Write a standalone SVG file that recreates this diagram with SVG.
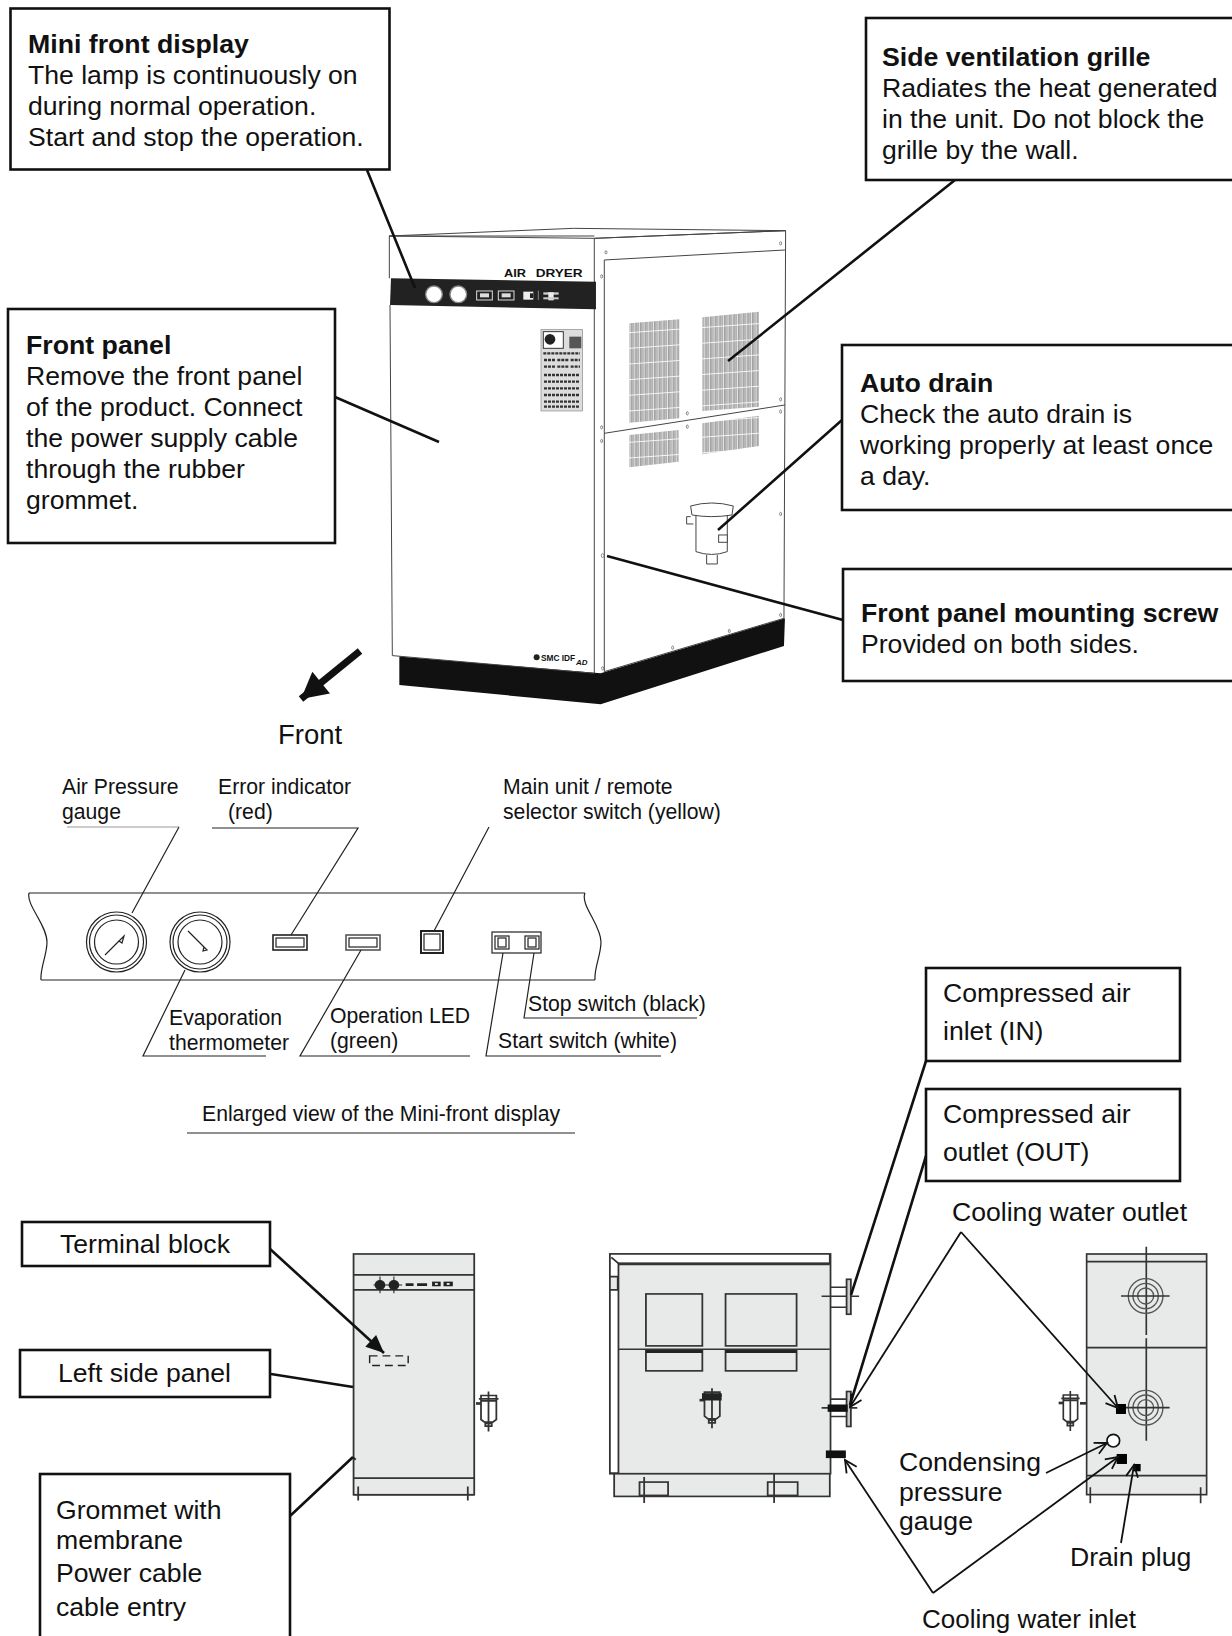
<svg xmlns="http://www.w3.org/2000/svg" xmlns:xlink="http://www.w3.org/1999/xlink" width="1232" height="1636" viewBox="0 0 1232 1636">
<style>
text{font-family:"Liberation Sans",Arial,sans-serif;fill:#111}
.b{font-size:26.6px}.bh{font-size:26.7px;font-weight:bold}
.s{font-size:21.2px}.m{font-size:26.6px}
.box{fill:#fff;stroke:#111;stroke-width:2.6}
.ln{fill:none;stroke:#111;stroke-width:2.6}
.t{fill:none;stroke:#222;stroke-width:1.2}
.g{fill:none;stroke:#999;stroke-width:1.2}
.a{fill:none;stroke:#111;stroke-width:1.8}
.u{fill:#e8eaea;stroke:#333;stroke-width:5}
.d{fill:none;stroke:#333;stroke-width:5}
.m1{fill:none;stroke:#444;stroke-width:3}
</style>
<defs>
<marker id="open" markerUnits="userSpaceOnUse" markerWidth="20" markerHeight="20" refX="15" refY="10" orient="auto"><path d="M3 4L15 10L3 16" fill="none" stroke="#111" stroke-width="1.8"/></marker>
<marker id="solid" markerUnits="userSpaceOnUse" markerWidth="24" markerHeight="24" refX="20" refY="12" orient="auto"><path d="M2 4L20 12L2 20Z" fill="#111"/></marker>
<marker id="big" markerUnits="userSpaceOnUse" markerWidth="40" markerHeight="40" refX="34" refY="20" orient="auto"><path d="M8 6L34 20L8 34Z" fill="#111"/></marker>
<pattern id="gr" patternUnits="userSpaceOnUse" width="14" height="47" patternTransform="skewY(-4)"><rect width="14" height="47" fill="#e2e2e2"/><path d="M1.500 0V47M5 0V47M9 0V47" stroke="#666" stroke-width="1.600"/><path d="M0 1H14" stroke="#fff" stroke-width="3"/></pattern>
<g id="drn"><path d="M0 10H55M6 0H49V16H6ZM6 16V72L16 80H39L49 72V16M27 -12V108M18 84H36V92H18Z" fill="none" stroke="#333" stroke-width="5"/><path d="M-8 24H6" stroke="#333" stroke-width="8"/></g>
<g id="port"><circle r="52" fill="none" stroke="#555" stroke-width="4"/><circle r="38" fill="none" stroke="#555" stroke-width="4"/><circle r="24" fill="none" stroke="#555" stroke-width="4"/><path d="M-74 0H72" stroke="#333" stroke-width="5"/></g>
</defs>

<g id="dryer" transform="translate(360 210) scale(.3333)">
<path d="M118 1340L722 1390L1275 1225L1272 1308L722 1483L118 1425Z" fill="#111"/>
<path d="M88 78L640 55L1277 62L703 85ZM88 78H703M88 78V205M90 285L97 1337L703 1390V85M733 150V1385M703 85L1277 62L1272 1225L733 1385M733 150L1275 120M733 670L1275 585" class="m1"/>
<path d="M93 205L708 215V298L90 285Z" fill="#222"/>
<circle cx="222" cy="253" r="25" fill="#fff" stroke="#888" stroke-width="4"/><circle cx="295" cy="253" r="25" fill="#fff" stroke="#888" stroke-width="4"/>
<rect x="350" y="243" width="47" height="27" fill="#222" stroke="#ddd" stroke-width="3"/><rect x="360" y="250" width="27" height="12" fill="#ddd"/>
<rect x="415" y="243" width="47" height="27" fill="#222" stroke="#ddd" stroke-width="3"/><rect x="425" y="250" width="27" height="12" fill="#ddd"/>
<rect x="490" y="245" width="30" height="24" fill="#eee"/><rect x="510" y="250" width="10" height="14" fill="#222"/><path d="M535 242V270" stroke="#bbb" stroke-width="2"/>
<rect x="550" y="247" width="46" height="7" fill="#ccc"/><rect x="565" y="247" width="16" height="24" fill="#eee"/><rect x="550" y="262" width="46" height="6" fill="#ccc"/>
<text x="432" y="202" font-size="30" font-weight="bold" textLength="66" lengthAdjust="spacingAndGlyphs">AIR</text><text x="527" y="202" font-size="30" font-weight="bold" textLength="141" lengthAdjust="spacingAndGlyphs">DRYER</text>
<polygon points="808,340 958,328 958,625 808,638" fill="url(#gr)"/>
<polygon points="1027,322 1197,305 1197,590 1027,603" fill="url(#gr)"/>
<polygon points="808,675 956,660 956,755 808,772" fill="url(#gr)"/>
<polygon points="1027,640 1197,617 1197,708 1027,733" fill="url(#gr)"/>
<rect x="543" y="358" width="125" height="245" fill="#ddd" stroke="#888" stroke-width="2"/>
<rect x="550" y="365" width="60" height="50" fill="#fff" stroke="#333" stroke-width="3"/><circle cx="570" cy="388" r="16" fill="#222"/><rect x="628" y="380" width="36" height="35" fill="#555"/>
<path d="M550 430H660M552 450H585M592 450H625M632 450H660M552 470H585M592 470H625M632 470H660M552 495H660M552 515H660M552 535H660M552 555H660M552 575H660M552 590H660" stroke="#333" stroke-width="7" stroke-dasharray="9 3"/>
<g fill="#fff" stroke="#555" stroke-width="2"><ellipse cx="738" cy="127" rx="3" ry="5"/><ellipse cx="1262" cy="100" rx="3" ry="5"/><ellipse cx="725" cy="199" rx="3" ry="5"/><ellipse cx="725" cy="652" rx="3" ry="5"/><ellipse cx="725" cy="693" rx="3" ry="5"/><ellipse cx="982" cy="610" rx="3" ry="5"/><ellipse cx="982" cy="650" rx="3" ry="5"/><ellipse cx="1262" cy="568" rx="3" ry="5"/><ellipse cx="1262" cy="605" rx="3" ry="5"/><ellipse cx="1262" cy="912" rx="3" ry="5"/><ellipse cx="728" cy="1037" rx="4" ry="6"/><ellipse cx="1262" cy="1215" rx="3" ry="5"/><ellipse cx="1108" cy="1263" rx="3" ry="5"/><ellipse cx="938" cy="1313" rx="3" ry="5"/><ellipse cx="728" cy="1375" rx="3" ry="5"/></g>
<path d="M992 888Q1055 870 1120 888L1116 915Q1055 925 996 915ZM1008 915V1025Q1055 1042 1102 1025V915M1040 1035V1062H1072V1035" fill="#fff" stroke="#444" stroke-width="3"/>
<path d="M992 920H980V942H1000" fill="#fff" stroke="#444" stroke-width="3"/><rect x="1076" y="975" width="26" height="22" fill="#fff" stroke="#444" stroke-width="3"/>
<circle cx="530" cy="1342" r="9" fill="#222"/><text x="543" y="1352" font-size="25" font-weight="bold">SMC IDF</text><text x="648" y="1364" font-size="24" font-weight="bold" font-style="italic">AD</text>
</g>

<g id="display" class="t">
<path d="M29 893H585M41 980H595M29 893C26 905 47 925 47 942C47 955 40 968 41 980M585 893C580 905 601 925 601 942C601 955 594 968 595 980"/>
<g><circle cx="116.500" cy="942" r="30"/><circle cx="116.500" cy="942" r="27"/><circle cx="116.500" cy="942" r="22"/><path d="M105 955L119 941L124 936L122 943L119 941"/></g>
<g><circle cx="200" cy="942" r="30"/><circle cx="200" cy="942" r="27"/><circle cx="200" cy="942" r="22"/><path d="M188 931L204 947L207 950L203 951L204 947"/></g>
<rect x="273" y="935" width="34" height="15" stroke-width="1.600"/><rect x="276" y="938" width="28" height="9"/>
<rect x="346" y="935" width="34" height="15" stroke="#555" stroke-width="1.600"/><rect x="349" y="938" width="28" height="9"/>
<rect x="421" y="931" width="22" height="22" stroke-width="2"/><rect x="424" y="934" width="16" height="16"/>
<rect x="492" y="932" width="49" height="21"/><rect x="495" y="936" width="14" height="13"/><rect x="498" y="938" width="8" height="9"/><rect x="525" y="936" width="14" height="13"/><rect x="528" y="938" width="8" height="9"/>
</g>

<g id="unit-left" transform="translate(320 1230) scale(.357 .333)">
<rect class="u" x="94" y="72" width="338" height="723"/>
<path class="d" d="M94 135H432M94 180H432M94 745H432M94 795H432M107 770V812M414 770V812"/>
<path d="M93 683L100 690" stroke="#333" stroke-width="6"/>
<circle cx="168" cy="165" r="15" fill="#222"/><circle cx="207" cy="165" r="15" fill="#222"/><path d="M168 140V190M207 140V190M150 165H230" stroke="#222" stroke-width="3"/>
<path d="M240 164H262M272 164H300" stroke="#222" stroke-width="8"/><rect x="314" y="155" width="24" height="14" fill="#222"/><rect x="346" y="155" width="26" height="14" fill="#222"/><rect x="322" y="159" width="8" height="6" fill="#ddd"/><rect x="355" y="159" width="8" height="6" fill="#ddd"/>
<rect x="139" y="378" width="108" height="29" fill="none" stroke="#222" stroke-width="4" stroke-dasharray="22 14"/>
<use xlink:href="#drn" x="445" y="497"/>
</g>

<g id="unit-mid" transform="translate(320 1230) scale(.357 .333)">
<rect class="u" x="812" y="72" width="618" height="660"/>
<rect class="u" x="824" y="732" width="604" height="68"/>
<path d="M812 72H1428V100H836V730H812V180H834V140H812Z" fill="#fff" stroke="#333" stroke-width="5"/>
<path d="M836 102H1428" stroke="#333" stroke-width="8"/>
<path class="d" d="M816 82L836 100M836 358H1428"/>
<rect class="d" x="913" y="192" width="158" height="156"/><rect class="d" x="1136" y="192" width="199" height="156"/>
<rect class="d" x="913" y="362" width="158" height="61"/><rect class="d" x="1136" y="362" width="199" height="61"/>
<path d="M913 365H1071M1136 365H1335" stroke="#222" stroke-width="8"/>
<rect class="d" x="895" y="757" width="80" height="40"/><rect class="d" x="1254" y="757" width="84" height="40"/><path class="d" d="M908 742V820M1272 732V820"/>
<use xlink:href="#drn" x="1071" y="487"/>
<rect x="1070" y="490" width="55" height="22" fill="#222"/>
<g class="d"><path d="M1430 172H1478M1430 232H1478M1405 199H1510"/><rect x="1475" y="148" width="12" height="105" fill="#ccc"/>
<path d="M1430 508H1478M1430 560H1478M1405 534H1505"/><rect x="1475" y="485" width="12" height="105" fill="#ccc"/></g>
<rect x="1422" y="524" width="56" height="22" fill="#111"/><rect x="1417" y="662" width="56" height="23" fill="#111"/>
</g>

<g id="unit-right" transform="translate(820 1230) scale(.3333)">
<rect class="u" x="800" y="72" width="360" height="722"/>
<path class="d" d="M800 95H1160M800 353H1160M800 737H1160M811 772V820M1142 772V820M979 50V315M979 325V632"/>
<use xlink:href="#port" x="977" y="198"/><use xlink:href="#port" x="977" y="533"/>
<use xlink:href="#drn" x="724" y="495"/>
<path d="M780 520H798" stroke="#333" stroke-width="8"/>
<rect x="888" y="522" width="30" height="30" fill="#000"/>
<circle cx="880" cy="632" r="19" fill="#fff" stroke="#111" stroke-width="5"/>
<rect x="890" y="672" width="31" height="30" fill="#000"/><rect x="940" y="702" width="22" height="22" fill="#000"/>
</g>

<g id="connectors">
<path class="ln" d="M367 170L415 288M955 180L728 361M335 397L439 442M842 420L718 530M843 620L607 556"/>
<path d="M360 651L301 699" fill="none" stroke="#111" stroke-width="7" marker-end="url(#big)"/>
<path class="g" d="M67 827H179"/>
<path class="t" d="M179 827L132 913M212 828H358L291 935M489 827L434 931M185 970L143 1056H266M361 950L300 1056H470M503 953L486 1056H661M534 953L524 1018H697M187 1133H575"/>
<path class="ln" d="M270 1249L384 1353" marker-end="url(#solid)"/>
<path class="ln" d="M271 1374L353 1387M290 1516L353 1457M926 1061L851 1295M926 1156L850 1405"/>
<path class="a" d="M961 1232L850 1407" marker-end="url(#open)"/>
<path class="a" d="M961 1232L1118 1408" marker-end="url(#open)"/>
<path class="a" d="M933 1593L845 1460" marker-end="url(#open)"/>
<path class="a" d="M933 1593L1118 1457" marker-end="url(#open)"/>
<path class="a" d="M1046 1473L1107 1443" marker-end="url(#open)"/>
<path class="a" d="M1121 1543L1134 1465" marker-end="url(#open)"/>
</g>

<g id="mini-front"><rect class="box" x="10.500" y="8.500" width="379" height="161"/><text class="bh" x="28" y="53">Mini front display</text><text class="b" x="28" y="84">The lamp is continuously on</text><text class="b" x="28" y="115">during normal operation.</text><text class="b" x="28" y="146">Start and stop the operation.</text></g>
<g id="side-grille"><rect class="box" x="866" y="18" width="370" height="162"/><text class="bh" x="882" y="66">Side ventilation grille</text><text class="b" x="882" y="97">Radiates the heat generated</text><text class="b" x="882" y="128">in the unit. Do not block the</text><text class="b" x="882" y="159">grille by the wall.</text></g>
<g id="front-panel"><rect class="box" x="8" y="309" width="327" height="234"/><text class="bh" x="26" y="354">Front panel</text><text class="b" x="26" y="385">Remove the front panel</text><text class="b" x="26" y="416">of the product. Connect</text><text class="b" x="26" y="447">the power supply cable</text><text class="b" x="26" y="478">through the rubber</text><text class="b" x="26" y="509">grommet.</text></g>
<g id="auto-drain"><rect class="box" x="842" y="345" width="394" height="165"/><text class="bh" x="860" y="392">Auto drain</text><text class="b" x="860" y="423">Check the auto drain is</text><text class="b" x="860" y="454">working properly at least once</text><text class="b" x="860" y="485">a day.</text></g>
<g id="mount-screw"><rect class="box" x="843" y="569" width="393" height="112"/><text class="bh" x="861" y="622">Front panel mounting screw</text><text class="b" x="861" y="653">Provided on both sides.</text></g>
<text class="b" x="278" y="744" style="font-size:27.5px">Front</text>

<g id="labels-display" class="s">
<text class="s" x="62" y="794">Air Pressure</text><text class="s" x="62" y="819">gauge</text>
<text class="s" x="218" y="794">Error indicator</text><text class="s" x="228" y="819">(red)</text>
<text class="s" x="503" y="794">Main unit / remote</text><text class="s" x="503" y="819">selector switch (yellow)</text>
<text class="s" x="169" y="1025">Evaporation</text><text class="s" x="169" y="1050">thermometer</text>
<text class="s" x="330" y="1023">Operation LED</text><text class="s" x="330" y="1048">(green)</text>
<text class="s" x="528" y="1011">Stop switch (black)</text><text class="s" x="498" y="1048">Start switch (white)</text>
<text class="s" x="202" y="1121">Enlarged view of the Mini-front display</text>
</g>

<g id="terminal"><rect class="box" x="22" y="1222" width="248" height="44"/><text class="m" x="60" y="1253">Terminal block</text></g>
<g id="left-panel"><rect class="box" x="20" y="1350" width="250" height="47"/><text class="m" x="58" y="1382">Left side panel</text></g>
<g id="grommet"><rect class="box" x="40" y="1474" width="250" height="170"/><text class="m" x="56" y="1519">Grommet with</text><text class="m" x="56" y="1549">membrane</text><text class="m" x="56" y="1582">Power cable</text><text class="m" x="56" y="1616">cable entry</text></g>
<g id="air-in"><rect class="box" x="926" y="968" width="254" height="93"/><text class="m" x="943" y="1002">Compressed air</text><text class="m" x="943" y="1040">inlet (IN)</text></g>
<g id="air-out"><rect class="box" x="926" y="1089" width="254" height="92"/><text class="m" x="943" y="1123">Compressed air</text><text class="m" x="943" y="1161">outlet (OUT)</text></g>
<text class="m" x="952" y="1221">Cooling water outlet</text>
<text class="m" x="899" y="1471">Condensing</text><text class="m" x="899" y="1501">pressure</text><text class="m" x="899" y="1530">gauge</text>
<text class="m" x="1070" y="1566">Drain plug</text>
<text class="m" x="922" y="1628" style="font-size:26px">Cooling water inlet</text>
</svg>
